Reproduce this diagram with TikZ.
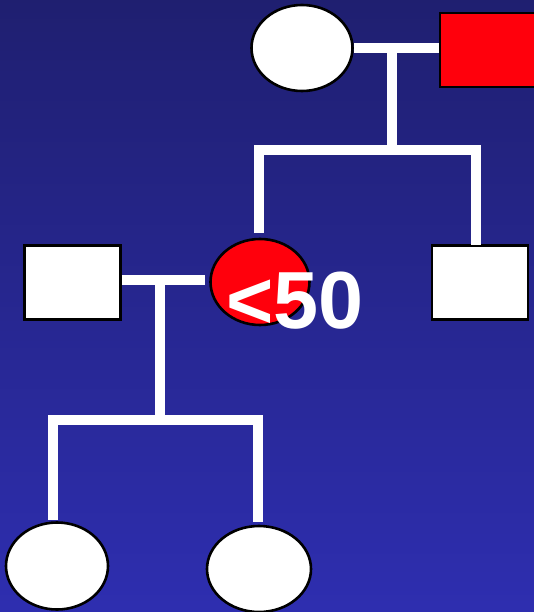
\documentclass[tikz,border=0pt]{standalone}
\usepackage{fontspec}
\setmainfont{Liberation Sans}
\usetikzlibrary{shapes.geometric}
\definecolor{bgtop}{RGB}{31,31,112}
\definecolor{bgbot}{RGB}{46,46,176}
\definecolor{affred}{RGB}{255,0,12}
\begin{document}
\begin{tikzpicture}[x=1pt,y=-1pt,
  person/.style={draw=black,line width=2.6pt,inner sep=0pt},
  fem/.style={person,ellipse,minimum width=101pt,minimum height=86pt},
  mal/.style={person,rectangle,minimum width=96pt,minimum height=74pt},
  link/.style={white,line width=10pt}]
\useasboundingbox (0,0) rectangle (533,612);
\shade[top color=bgtop,bottom color=bgbot] (-2,-2) rectangle (536,615);
% generation I
\node[fem,fill=white] (gf) at (302,48) {};
\node[mal,fill=affred,minimum width=104pt] (gm) at (492,50) {};
% generation II
\node[mal,fill=white] (hl) at (72.5,282.5) {};
\node[fem,fill=affred,minimum width=99pt] (pr) at (260,282) {};
\node[mal,fill=white] (br) at (480,282.5) {};
% generation III
\node[fem,fill=white,minimum width=102pt,minimum height=87pt] (c1) at (57,566) {};
\node[fem,fill=white,minimum width=104pt] (c2) at (259,569) {};
% connector points
\coordinate (m1) at (392,48);
\coordinate (s1) at (392,150);
\coordinate (d1) at (259,233);
\coordinate (d2) at (476,245);
\coordinate (m2) at (160,280);
\coordinate (e2) at (205,280);
\coordinate (s2) at (160,420);
\coordinate (d3) at (53,520);
\coordinate (d4) at (258,522);
% connectors
\draw[link] (gf.east) -- (gf.east -| gm.west);
\draw[link] (m1) -- (s1);
\draw[link] (d1) |- (s1) -| (d2);
\draw[link] (hl.east |- m2) -- (e2);
\draw[link] (m2) -- (s2);
\draw[link] (d3) |- (s2) -| (d4);
% label
\node[text=white,inner sep=0pt,font=\fontsize{81}{81}\selectfont\bfseries] (lab) at (295,301) {<50};
\end{tikzpicture}
\end{document}
